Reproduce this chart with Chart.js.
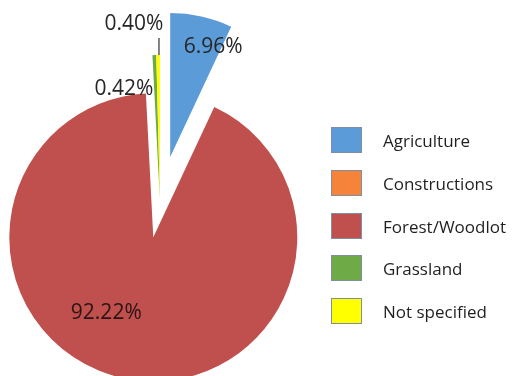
<!DOCTYPE html>
<html><head><meta charset="utf-8">
<script src="https://cdn.jsdelivr.net/npm/chart.js@4.4.1/dist/chart.umd.min.js"></script>
<style>
html,body{margin:0;padding:0;background:#fff;}
#wrap{position:relative;width:514px;height:376px;overflow:hidden;background:#fff;}
#c{position:absolute;left:0;top:0;}
#legend{position:absolute;left:331px;top:127px;font-family:'Open Sans',sans-serif;font-size:17px;color:#1f1f1f;}
.item{position:absolute;left:0;height:26px;white-space:nowrap;}
.box{position:absolute;left:0;top:0;width:29px;height:24px;border:1px solid #7f8ea4;}
.lab{position:absolute;left:52px;top:1px;line-height:26px;}
</style></head><body>
<div id="wrap"><canvas id="c" width="514" height="376"></canvas><div id="legend"></div></div>
<script>
// ---- data ----
const categories = ['Agriculture', 'Constructions', 'Forest/Woodlot', 'Grassland', 'Not specified'];
const shares = [6.96, 0.00, 92.22, 0.42, 0.40];
// ---- style ----
const colors = ['#5B9BD8', '#F5833A', '#C0504D', '#6EAB46', '#FFFF00'];
const explodePx = [47, 0, 35, 4, 4];   // how far each slice is pulled out of the centre

// legend (HTML, built from the arrays)
const legendEl = document.getElementById('legend');
categories.forEach((name, i) => {
  const it = document.createElement('div');
  it.className = 'item';
  it.style.top = (i * 42.8) + 'px';
  const b = document.createElement('div');
  b.className = 'box';
  b.style.background = colors[i];
  const t = document.createElement('div');
  t.className = 'lab';
  t.textContent = name;
  it.appendChild(b); it.appendChild(t);
  legendEl.appendChild(it);
});

// explode slices: move each arc's own centre outward along its bisector
const explodeSlices = {
  id: 'explodeSlices',
  beforeDatasetDraw(chart, args) {
    const a = chart.chartArea;
    const cx = (a.left + a.right) / 2, cy = (a.top + a.bottom) / 2;
    args.meta.data.forEach((arc, i) => {
      const mid = (arc.startAngle + arc.endAngle) / 2;
      const d = explodePx[i] || 0;
      arc.x = cx + Math.cos(mid) * d;
      arc.y = cy + Math.sin(mid) * d;
    });
  }
};

// percentage labels placed relative to each exploded slice
const labelNudge = [[43, -112], null, [-47, 74], [-36, -112], [-26, -177]];
const pctLabels = {
  id: 'pctLabels',
  afterDatasetsDraw(chart) {
    const ctx = chart.ctx;
    const meta = chart.getDatasetMeta(0);
    ctx.save();
    ctx.font = '21px "Open Sans"';
    ctx.textAlign = 'center';
    ctx.textBaseline = 'alphabetic';
    meta.data.forEach((arc, i) => {
      const v = shares[i];
      if (!v || !labelNudge[i]) return;
      const bx = arc.x, by = arc.y;
      ctx.fillStyle = i === 2 ? '#2a1414' : '#262626';
      ctx.fillText(v.toFixed(2) + '%', bx + labelNudge[i][0], by + labelNudge[i][1] + 7.5);
      if (i === 4) {
        ctx.strokeStyle = '#5a5a5a';
        ctx.lineWidth = 1.5;
        ctx.beginPath();
        ctx.moveTo(bx - 1, by - arc.outerRadius);
        ctx.lineTo(bx - 1, by - 161);
        ctx.stroke();
      }
    });
    ctx.restore();
  }
};

function draw() {
  new Chart(document.getElementById('c'), {
    type: 'pie',
    data: {
      labels: categories,
      datasets: [{
        data: shares,
        backgroundColor: colors,
        borderWidth: 0,
        radius: 144,
        clip: false
      }]
    },
    options: {
      responsive: false,
      animation: false,
      layout: { padding: { left: 0, right: 194, top: 30, bottom: 0 } },
      plugins: { legend: { display: false }, tooltip: { enabled: false } }
    },
    plugins: [explodeSlices, pctLabels]
  });
}
if (document.fonts && document.fonts.load) {
  document.fonts.load('21px "Open Sans"').then(draw, draw);
} else { draw(); }
</script>
</body></html>
